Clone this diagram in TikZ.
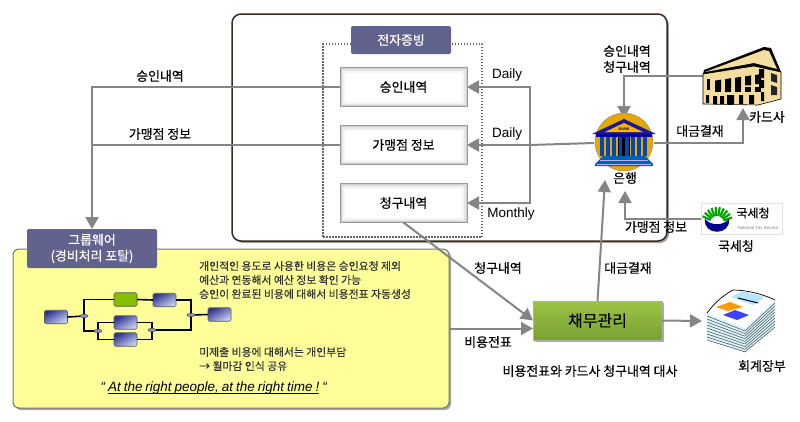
\documentclass[tikz,border=0pt]{standalone}
\usepackage{fontspec}
\setmainfont{Liberation Sans}
\newfontfamily\kr{Noto Sans CJK KR}[FakeBold=0.35]
\usetikzlibrary{arrows.meta,shadows,shapes.geometric}
\definecolor{tagblue}{HTML}{62628F}
\definecolor{framebrown}{HTML}{3B2A1E}
\definecolor{flowgray}{HTML}{858585}
\definecolor{paleyellow}{HTML}{FFFF99}
\definecolor{taskdark}{HTML}{2F3590}
\definecolor{tasklight}{HTML}{C8D0F0}
\definecolor{cream}{HTML}{F5DDA0}
\definecolor{mgmttop}{HTML}{9CC245}
\definecolor{mgmtbot}{HTML}{78A232}
\definecolor{taskgreen}{HTML}{86BE00}
\tikzset{
  softshadow/.style={drop shadow={shadow xshift=2pt,shadow yshift=-2pt,opacity=.35,fill=black}},
  lbl/.style={font=\kr\fontsize{12.9}{16}\selectfont,align=center,inner sep=0pt},
  note/.style={font=\kr\fontsize{10.85}{14}\selectfont,anchor=west,align=left,inner sep=0pt,text=black!80},
  lat/.style={font=\fontsize{13.5}{15}\selectfont,inner sep=0pt},
  tagbox/.style={fill=tagblue,rounded corners=2pt,text=white,font=\kr\fontsize{12.9}{16}\selectfont,align=center,outer sep=0pt},
  docbox/.style={draw=black!40,line width=1pt,fill=white,minimum width=127pt,minimum height=39pt,outer sep=0pt,
    font=\kr\fontsize{12.9}{15}\selectfont,
    path picture={
      \draw[black!4,line width=10pt] (path picture bounding box.south west) rectangle (path picture bounding box.north east);
      \draw[black!10,line width=6pt] (path picture bounding box.south west) rectangle (path picture bounding box.north east);
      \draw[black!18,line width=3pt] (path picture bounding box.south west) rectangle (path picture bounding box.north east);
    }},
  flow/.style={draw=flowgray,line width=2pt,-{Triangle[length=12pt,width=13pt]}},
  plain/.style={draw=flowgray,line width=2pt},
  hold/.style={inner sep=0pt,outer sep=0pt},
  task/.style={draw=black!65,line width=.6pt,rounded corners=1.5pt,minimum width=23pt,minimum height=13.5pt,inner sep=0pt,outer sep=0pt},
  bluetask/.style={task,left color=taskdark,right color=tasklight,shading angle=30},
  gate/.style={ellipse,draw=black!70,line width=.4pt,fill=taskdark!55!white,minimum width=8pt,minimum height=3.5pt,inner sep=0pt,outer sep=0pt},
  wire/.style={draw=black,line width=1.6pt},
}
\begin{document}
\begin{tikzpicture}[x=1pt,y=-1pt]
  \useasboundingbox (0,0) rectangle (800,421);
  %Frame
  \node[draw=framebrown,line width=1.5pt,fill=white,rounded corners=9pt,minimum width=435pt,minimum height=227pt,outer sep=0pt,softshadow] (frame) at (449.5,127.5) {};
  \node[draw=black!60,line width=1.5pt,dash pattern=on 1.5pt off 1.5pt,minimum width=159pt,minimum height=193pt,outer sep=0pt] (dots) at (402.5,140.5) {};
  \node[tagbox,minimum width=100pt,minimum height=28pt] (evid) at (401,40) {전자증빙};
  %Documents
  \node[docbox] (appr) at (403.5,87) {승인내역};
  \node[docbox] (merch) at (403.5,145) {가맹점 정보};
  \node[docbox] (bill) at (403.5,203) {청구내역};
  %Portal
  \node[draw=black!55,line width=1pt,fill=paleyellow,rounded corners=6pt,minimum width=436pt,minimum height=159pt,outer sep=0pt,softshadow] (portal) at (231,328.5) {};
  \node[tagbox,minimum width=130pt,minimum height=39pt] (group) at (92,248.5) {그룹웨어\\(경비처리 포탈)};
  %Management
  \node[draw=black!30,line width=.6pt,top color=mgmttop,bottom color=mgmtbot,minimum width=129pt,minimum height=39pt,outer sep=0pt,softshadow,font=\kr\fontsize{16}{18}\selectfont] (mgmt) at (597.5,320.5) {채무관리};
  %Icon holders
  \node[hold,minimum width=60pt,minimum height=50pt] (bank) at (624,143) {};
  \node[hold,minimum width=78pt,minimum height=57pt] (card) at (742,76) {};
  \node[hold,draw=black!12,line width=.6pt,fill=white,minimum width=81pt,minimum height=31pt] (nts) at (741.5,218.5) {};
  \node[hold,minimum width=74pt,minimum height=64pt] (ledger) at (739,321) {};
  \coordinate (bus) at (530,145);
  \coordinate (cardin) at (743,108);
  \coordinate (ntsin) at (625,191);
  \coordinate (bankin) at (605,180);
  %Connectors
  \draw[plain] (bank.west) -- (bus);
  \draw[flow] (bus) -- (merch.east);
  \draw[flow] (bus) |- (appr.east);
  \draw[flow] (bus) |- (bill.east);
  \draw[flow] (appr.west) -| (group.north);
  \draw[plain] (merch.west) -- (merch.west -| group.north);
  \draw[flow] (bill.south) -- (mgmt.west);
  \draw[flow] (portal.east) -- (mgmt.west |- portal.east);
  \draw[flow] (mgmt.north) -- (bankin);
  \draw[flow] (mgmt.east) -- (ledger.west);
  \draw[flow] (card.west) -| (bank.north);
  \draw[flow] (bank.east) -| (cardin);
  \draw[flow] (nts.west) -| (ntsin);
  %Labels
  \node[lbl] (t1) at (160,76) {승인내역};
  \node[lbl] (t2) at (160,134) {가맹점 정보};
  \node[lat] (t3) at (507,75) {Daily};
  \node[lat] (t4) at (507,134) {Daily};
  \node[lat] (t5) at (511,214) {Monthly};
  \node[lbl] (t6) at (627,59) {승인내역\\청구내역};
  \node[lbl] (t7) at (700,131) {대금결재};
  \node[lbl] (t8) at (767,117) {카드사};
  \node[lbl] (t9) at (625,178) {은행};
  \node[lbl] (t10) at (656,227) {가맹점 정보};
  \node[lbl] (t11) at (736,246) {국세청};
  \node[lbl] (t12) at (498,268) {청구내역};
  \node[lbl] (t13) at (628,268) {대금결재};
  \node[lbl] (t14) at (488,342) {비용전표};
  \node[lbl] (t15) at (590,371) {비용전표와 카드사 청구내역 대사};
  \node[lbl] (t16) at (762,366) {회계장부};
  %Portal text
  \node[note] (n1) at (199,280) {개인적인 용도로 사용한 비용은 승인요청 제외\\예산과 연동해서 예산 정보 확인 가능\\승인이 완료된 비용에 대해서 비용전표 자동생성};
  \node[note] (n2) at (199,359) {미제출 비용에 대해서는 개인부담\\→ 월마감 인식 공유};
  \node[inner sep=0pt,font=\fontsize{13.5}{15}\selectfont] (quote) at (214,388) {\spaceskip=.22em \textit{“ \underline{\smash{At the right people, at the right time !}} “}};
  %Workflow
  \node[bluetask] (w1) at (56,317) {};
  \node[task,fill=taskgreen] (w2) at (125.5,299.5) {};
  \node[bluetask] (w3) at (164.5,300) {};
  \node[bluetask] (w4) at (125.5,322.5) {};
  \node[bluetask] (w5) at (125.5,339.5) {};
  \node[bluetask] (w6) at (219.5,314.5) {};
  \coordinate (c1) at (84,316);
  \coordinate (c2) at (191,315);
  \coordinate (c3) at (98,331);
  \coordinate (c4) at (152,330);
  \draw[wire] (w1.east) -- (c1);
  \draw[wire] (c1) |- (w2.west);
  \draw[wire] (w2.east) -- (w3.west);
  \draw[wire] (w3.east) -| (c2);
  \draw[wire] (c2) -- (w6.west);
  \draw[wire] (c1) |- (c3);
  \draw[wire] (c3) |- (w4.west);
  \draw[wire] (c3) |- (w5.west);
  \draw[wire] (w4.east) -| (c4);
  \draw[wire] (w5.east) -| (c4);
  \draw[wire] (c4) -| (c2);
  \node[gate] (g1) at (c1) {};
  \node[gate] (g2) at (c2) {};
  \node[gate] (g3) at (c3) {};
  \node[gate] (g4) at (c4) {};
  %Bank
  \fill[orange!55!yellow!90!black,draw=black!45,line width=.4pt] (624,142) circle (29);
  \fill[blue!60!black] (596,134) rectangle (652,137);
  \fill[black] (618,137) rectangle (630,156);
  \foreach \i in {0,...,7}
    \fill[blue!60!cyan!70!black] (600+\i*6.2,137) rectangle +(3.8,19);
  \fill[blue!55!black!90!white] (624,119) -- (656,134) -- (592,134) -- cycle;
  \fill[orange!60!yellow] (624,123) -- (643,132) -- (605,132) -- cycle;
  \node[hold,font=\bfseries\fontsize{3.8}{4}\selectfont] (banktxt) at (624,129) {BANK};
  \fill[blue!45!cyan!70!black] (603,156) -- (645,156) -- (653,164) -- (653,166) -- (595,166) -- (595,164) -- cycle;
  \draw[blue!30!white,line width=.5pt] (600,160) -- (648,160) (597,164) -- (651,164);
  %Card company
  \fill[cream,draw=black,line width=.6pt] (703,74) -- (754,66) -- (781,72) -- (781,99) -- (758,105) -- (703,104) -- cycle;
  \fill[black] (703,74) -- (704,70) -- (764,47) -- (771,48) -- (781,72) -- (754,66) -- cycle;
  \fill[cream] (705,72) -- (764,50) -- (769,51) -- (777,69) -- (754,63) -- cycle;
  \foreach \i in {0,...,4} \fill[black] (763-\i*10-2,74-\i*.0+\i*1.4) -- ++(-6,1) -- ++(0,9) -- ++(6,0) -- cycle;
  \foreach \i in {0,...,4} \fill[black] (761-\i*10,87) rectangle +(-6,5);
  \fill[black] (706,95) rectangle +(3,8) (713,96) rectangle +(4,8) (720,96) rectangle +(4,8) (727,95) rectangle +(7,9) (739,95) rectangle +(4,9) (749,95) rectangle +(5,9);
  \fill[black] (707,79) rectangle +(3,11);
  \fill[black] (759,69) rectangle +(5,9) (759,80) rectangle +(5,8) (761,92) rectangle +(3,9);
  \fill[black!85] (771,73) -- (777,75) -- (777,83) -- (771,81) -- cycle (771,85) -- (777,87) -- (777,95) -- (771,95) -- cycle;
  %Tax service logo
  \foreach \a in {205,220,...,340}
    \draw[green!65!black,line width=2.2pt] (717,223) ++(\a:7) -- ++(\a:9);
  \fill[blue!55!black] (705,219) .. controls (711,226) and (723,226) .. (729,219) .. controls (731,236) and (703,236) .. (705,219) -- cycle;
  \node[hold,font=\kr\fontsize{12}{14}\selectfont] (ntsname) at (753,213) {국세청};
  \node[hold,font=\fontsize{4.5}{5}\selectfont,text=black!50] (ntseng) at (758,228) {National Tax Service};
  %Ledger
  \fill[cyan!15!white] (707,313) -- (745,328) -- (775,300) -- (775,328) -- (745,353) -- (707,340) -- cycle;
  \foreach \i in {0,...,8} {
    \draw[black!70,line width=.5pt] (707,316+\i*3) -- (745,331+\i*2.6);
    \draw[black!70,line width=.5pt] (745,331+\i*2.6) -- (775,303+\i*3);
  }
  \fill[white] (707,313) -- (733,290) -- (775,300) -- (745,328) -- cycle;
  \draw[black,line width=.7pt] (707,313) .. controls (715,302) and (724,295) .. (733,290) .. controls (748,290) and (765,295) .. (775,300);
  \fill[cyan!30!white] (731,297) -- (743,291) -- (765,297) -- (753,305) -- cycle;
  \draw[black,line width=1pt] (738,298) -- (758,303);
  \fill[orange!80!yellow] (716,307) -- (730,302) -- (743,307) -- (728,311) -- cycle;
  \fill[blue!75!white] (723,315) -- (735,310) -- (749,315) -- (737,320) -- cycle;
\end{tikzpicture}
\end{document}
